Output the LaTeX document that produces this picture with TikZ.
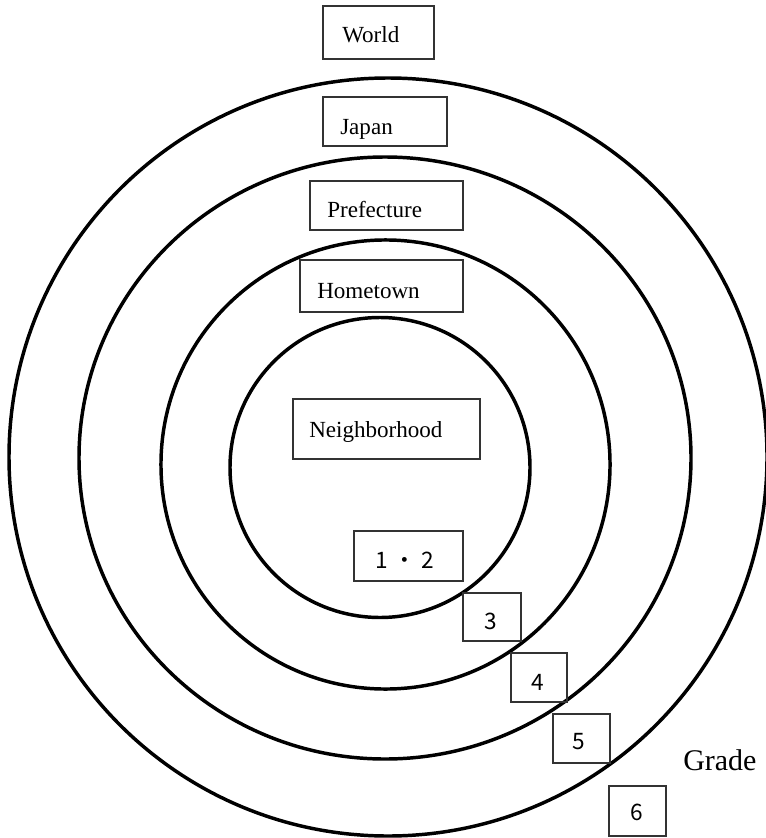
\documentclass[tikz,border=0pt]{standalone}
\usepackage{fontspec}
\setmainfont{Liberation Serif}
\newfontfamily\numfont{Noto Sans CJK JP}
\usetikzlibrary{fit}

\tikzset{
  ring/.style={line width=2.6pt, draw=black},
  tag/.style={draw=black!80, line width=0.9pt, inner sep=0pt},
  place/.style={inner sep=0pt, font=\fontsize{17.3pt}{19pt}\selectfont},
  grade/.style={inner sep=0pt, font=\fontsize{17pt}{19pt}\numfont},
  gradeword/.style={inner sep=0pt, font=\fontsize{22.5pt}{26pt}\selectfont},
}

\begin{document}
\begin{tikzpicture}[x=0.75pt, y=-0.75pt]
  \useasboundingbox[fill=white] (0,0) rectangle (766,838);

  % concentric circles: world, Japan, prefecture, hometown
  \coordinate (cWorld) at (388,457);
  \coordinate (cJapan) at (385,458);
  \coordinate (cPref)  at (385.5,464.5);
  \coordinate (cHome)  at (380,467.5);
  \draw[ring] (cWorld) circle[radius=284.25pt];
  \draw[ring] (cJapan) ellipse[x radius=229.5pt, y radius=225.75pt];
  \draw[ring] (cPref)  circle[radius=168.4pt];
  \draw[ring] (cHome)  circle[radius=112.5pt];

  % region labels
  \node[tag, fit={(323,6) (434,59)}] (world) {};
  \node[place, anchor=base west] (worldlbl) at (342,43) {World};

  \node[tag, fit={(323,97) (447,146)}] (japan) {};
  \node[place, anchor=base west] (japanlbl) at (340,135) {Japan};

  \node[tag, fit={(310,181) (463,230)}] (pref) {};
  \node[place, anchor=base west] (preflbl) at (327,217) {Prefecture};

  \node[tag, fit={(300,260) (463,312)}] (home) {};
  \node[place, anchor=base west] (homelbl) at (317,298) {Hometown};

  \node[tag, fit={(293,399) (480,459)}] (nbhd) {};
  \node[place, anchor=base west] (nbhdlbl) at (309,437) {Neighborhood};

  % grade boxes
  \node[tag, fit={(354,531) (463,581)}] (g12) {};
  \node[grade] (g12lbl) at (404.5,560) {1\hspace{4pt}・\hspace{4pt}2};

  \node[tag, fit={(463,593) (521,641)}] (g3) {};
  \node[grade] (g3lbl) at (491,621) {3};

  \node[tag, fit={(511,653) (567,702)}] (g4) {};
  \node[grade] (g4lbl) at (538,682) {4};

  \node[tag, fit={(553,714) (610,763)}] (g5) {};
  \node[grade] (g5lbl) at (579,742) {5};

  \node[tag, fit={(609,786) (666,836)}] (g6) {};
  \node[grade] (g6lbl) at (637,812) {6};

  \node[gradeword, anchor=base west] (gradelbl) at (683,770) {Grade};
\end{tikzpicture}
\end{document}
